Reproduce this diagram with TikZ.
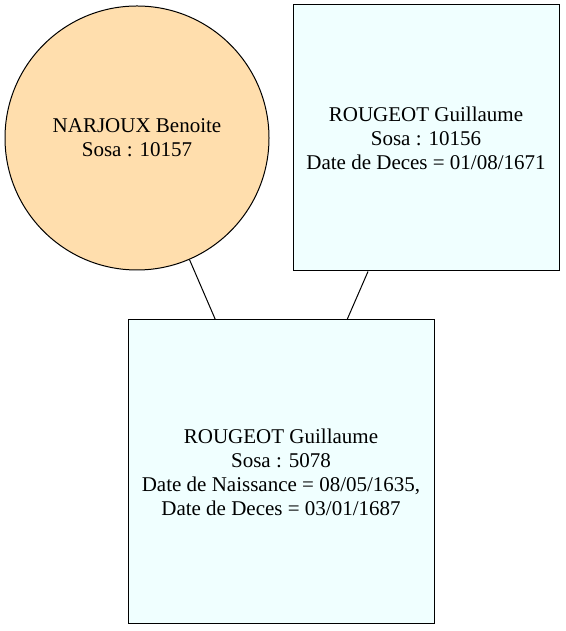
\documentclass[tikz,border=0pt]{standalone}
\usepackage{fontspec}
\setmainfont{Liberation Serif}
\tikzset{
	person/.style={draw=black,line width=1pt,align=center,inner sep=0pt,font=\fontsize{21}{24}\selectfont},
	woman/.style={person,circle,fill=navajo,minimum size=264pt},
	man/.style={person,rectangle,fill=azurecol}
}
\definecolor{navajo}{HTML}{FFDEAD}
\definecolor{azurecol}{HTML}{F0FFFF}
\begin{document}
\begin{tikzpicture}[x=1pt,y=1pt]
			\useasboundingbox (0,0) rectangle (565,631);
			\node[woman](mere) at (137,493){NARJOUX Benoite\\Sosa : 10157};
			\node[man,minimum width=266pt,minimum height=266pt](pere) at (426,493){ROUGEOT Guillaume\\Sosa : 10156\\Date de Deces = 01/08/1671};
			\node[man,minimum width=306pt,minimum height=304pt](fils) at (281,159){ROUGEOT Guillaume\\Sosa : 5078\\Date de Naissance = 08/05/1635,\\Date de Deces = 03/01/1687};
			\draw[black,line width=1pt](mere)--(fils);
			\draw[black,line width=1pt](pere)--(fils);
		\end{tikzpicture}
\end{document}
